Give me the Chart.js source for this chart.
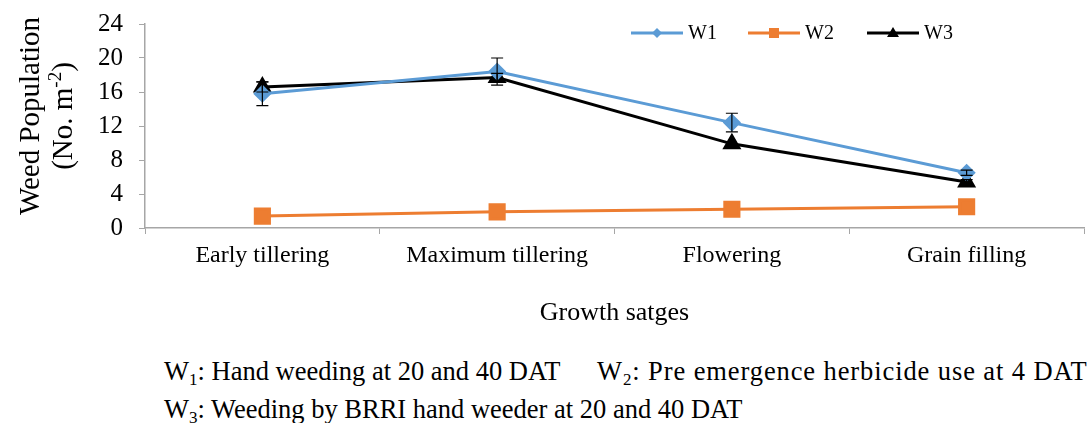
<!DOCTYPE html>
<html>
<head>
<meta charset="utf-8">
<script src="https://cdn.jsdelivr.net/npm/chart.js@4.4.1/dist/chart.umd.min.js"></script>
<style>
  html,body{margin:0;padding:0;background:#fff;}
  #wrap{position:relative;width:1087px;height:423px;overflow:hidden;font-family:"Liberation Serif","Times New Roman",serif;color:#000;}
  #box{position:absolute;left:0;top:0;width:1097px;height:335px;}
  .note{position:absolute;font-size:26.5px;line-height:30px;white-space:nowrap;}
  .note sub{font-size:17px;vertical-align:-5px;line-height:0;}
</style>
</head>
<body>
<div id="wrap">
  <div id="box"><canvas id="c"></canvas></div>
  <div class="note" style="left:164px;top:356px;">W<sub>1</sub>: Hand weeding at 20 and 40 DAT</div>
  <div class="note" style="left:597px;top:356px;letter-spacing:0.9px;">W<sub>2</sub>: Pre emergence herbicide use at 4 DAT</div>
  <div class="note" style="left:164px;top:394px;">W<sub>3</sub>: Weeding by BRRI hand weeder at 20 and 40 DAT</div>
</div>
<script>
// Data
const stages = ['Early tillering', 'Maximum tillering', 'Flowering', 'Grain filling'];
const w1 = [15.8, 18.4, 12.4, 6.5];
const w2 = [1.4, 1.9, 2.2, 2.5];
const w3 = [16.6, 17.7, 9.9, 5.4];
const w1Err = [1.4, 1.6, 1.1, 0.3];
const w2Err = [0, 0, 0, 0];
const w3Err = [0.6, 0.5, 0, 0.3];
const yTicks = [0, 4, 8, 12, 16, 20, 24];

const FONT = '"Liberation Serif","Times New Roman",serif';
const el = (id) => document.getElementById(id);

// error bars drawn from the scales
const errorBars = {
  id:'errorBars',
  afterDatasetsDraw(chart){
    const {ctx, scales:{x, y}} = chart;
    ctx.save();
    ctx.strokeStyle = '#000'; ctx.lineWidth = 1.2;
    chart.data.datasets.forEach((ds)=>{
      (ds.err||[]).forEach((e,i)=>{
        if(!e) return;
        const px = x.getPixelForValue(i);
        const top = y.getPixelForValue(ds.data[i]+e), bot = y.getPixelForValue(ds.data[i]-e);
        ctx.beginPath();
        ctx.moveTo(px, top); ctx.lineTo(px, bot);
        ctx.moveTo(px-6, top); ctx.lineTo(px+6, top);
        ctx.moveTo(px-6, bot); ctx.lineTo(px+6, bot);
        ctx.stroke();
      });
    });
    ctx.restore();
  }
};

// Excel-style legend: line with marker in the middle
const lineLegend = {
  id:'lineLegend',
  afterDraw(chart){
    const {ctx} = chart;
    const starts = [631, 748, 867];
    const yy = 33;
    ctx.save();
    chart.data.datasets.forEach((ds,i)=>{
      const x0 = starts[i];
      ctx.strokeStyle = ds.borderColor; ctx.lineWidth = 3;
      ctx.beginPath(); ctx.moveTo(x0, yy); ctx.lineTo(x0+52, yy); ctx.stroke();
      const cx = x0+26;
      ctx.fillStyle = ds.pointBackgroundColor;
      ctx.beginPath();
      if(ds.pointStyle==='rectRot'){ ctx.moveTo(cx,yy-5); ctx.lineTo(cx+5,yy); ctx.lineTo(cx,yy+5); ctx.lineTo(cx-5,yy); }
      else if(ds.pointStyle==='rect'){ ctx.rect(cx-5,yy-5,10,10); }
      else { ctx.moveTo(cx,yy-6); ctx.lineTo(cx+6,yy+4); ctx.lineTo(cx-6,yy+4); }
      ctx.closePath(); ctx.fill();
      ctx.fillStyle = '#000'; ctx.font = `20px ${FONT}`; ctx.textBaseline = 'middle';
      ctx.fillText(ds.label, x0+57, yy+1);
    });
    ctx.restore();
  }
};

// two-line y title with a real superscript
const yTitle = {
  id:'yTitle',
  afterDraw(chart){
    const {ctx} = chart;
    ctx.save();
    ctx.fillStyle = '#000'; ctx.textBaseline = 'alphabetic';
    ctx.translate(39, 116); ctx.rotate(-Math.PI/2);
    ctx.font = `29px ${FONT}`; ctx.textAlign = 'center';
    ctx.fillText('Weed Population', 0, 0);
    ctx.setTransform(1,0,0,1,0,0);
    ctx.translate(72, 116); ctx.rotate(-Math.PI/2);
    ctx.textAlign = 'left';
    const a = '(No. m', s = '-2', b = ')';
    ctx.font = `29px ${FONT}`; const wa = ctx.measureText(a).width, wb = ctx.measureText(b).width;
    ctx.font = `19px ${FONT}`; const ws = ctx.measureText(s).width;
    let x0 = -(wa+ws+wb)/2;
    ctx.font = `29px ${FONT}`; ctx.fillText(a, x0, 0);
    ctx.font = `19px ${FONT}`; ctx.fillText(s, x0+wa, -11);
    ctx.font = `29px ${FONT}`; ctx.fillText(b, x0+wa+ws, 0);
    ctx.restore();
  }
};

new Chart(el('c'), {
  type:'line',
  data:{ labels:stages, datasets:[
    { label:'W1', data:w1, err:w1Err, borderColor:'#5B9BD5', pointBackgroundColor:'#5B9BD5', pointBorderColor:'#5B9BD5', pointStyle:'rectRot', pointRadius:7, borderWidth:3, tension:0 },
    { label:'W2', data:w2, err:w2Err, borderColor:'#ED7D31', pointBackgroundColor:'#ED7D31', pointBorderColor:'#ED7D31', pointStyle:'rect', pointRadius:10, borderWidth:3, tension:0 },
    { label:'W3', data:w3, err:w3Err, borderColor:'#000000', pointBackgroundColor:'#000000', pointBorderColor:'#000000', pointStyle:'triangle', pointRadius:8, borderWidth:3, tension:0 },
  ]},
  options:{
    responsive:true, maintainAspectRatio:false, animation:false,
    layout:{ padding:{ top:24, right:2, left:0, bottom:0 } },
    plugins:{ legend:{display:false}, tooltip:{enabled:false} },
    scales:{
      x:{
        offset:true,
        grid:{ offset:true, drawOnChartArea:false, tickLength:6, color:'#A6A6A6' },
        border:{ color:'#A6A6A6', width:1.5 },
        ticks:{ color:'#000', font:{ family:FONT, size:24 }, padding:7, maxRotation:0 },
        title:{ display:true, text:'Growth satges', color:'#000', font:{ family:FONT, size:26 }, padding:{ top:0, bottom:6 } },
        afterFit:(s)=>{ s.height = 107; s.paddingLeft = 0; s.paddingRight = 0; }
      },
      y:{
        min:0, max:24,
        afterBuildTicks:(s)=>{ s.ticks = yTicks.map(v=>({value:v})); },
        grid:{ drawOnChartArea:false, tickLength:6, color:'#A6A6A6' },
        border:{ color:'#A6A6A6', width:1.5 },
        ticks:{ color:'#000', font:{ family:FONT, size:25 }, padding:16, autoSkip:false },
        afterFit:(s)=>{ s.width = 145; s.paddingTop = 0; s.paddingBottom = 0; }
      }
    }
  },
  plugins:[errorBars, lineLegend, yTitle]
});
</script>
</body>
</html>
